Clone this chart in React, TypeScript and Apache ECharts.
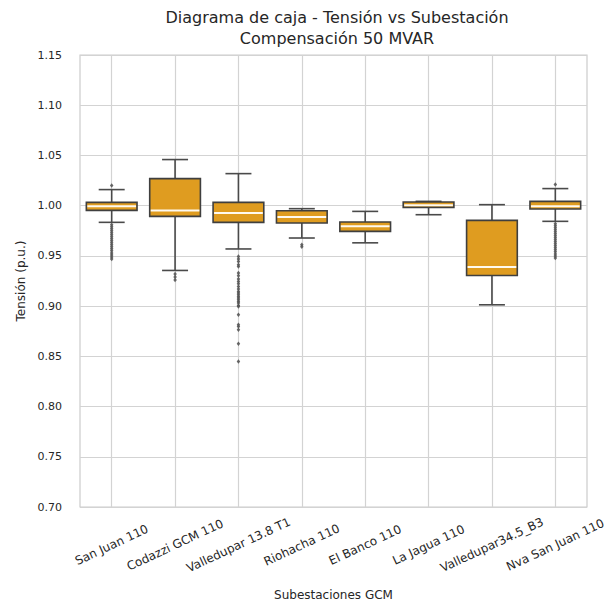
import React, { useEffect, useRef } from "react";
import * as echarts from "echarts";

const categories = [
  "San Juan 110",
  "Codazzi GCM 110",
  "Valledupar 13.8 T1",
  "Riohacha 110",
  "El Banco 110",
  "La Jagua 110",
  "Valledupar34.5_B3",
  "Nva San Juan 110",
];

// [lower whisker, Q1, median, Q3, upper whisker]
const boxStats = [
  [0.9834, 0.9953, 0.9993, 1.0033, 1.016],
  [0.9355, 0.9893, 0.9953, 1.0269, 1.0459],
  [0.9569, 0.9834, 0.9927, 1.0033, 1.0319],
  [0.9678, 0.9828, 0.9887, 0.995, 0.997],
  [0.963, 0.9744, 0.9794, 0.9838, 0.9943],
  [0.991, 0.9983, 1.0003, 1.0037, 1.0043],
  [0.9013, 0.9305, 0.9389, 0.9854, 1.001],
  [0.9844, 0.9967, 0.9993, 1.0043, 1.017],
];

const outliersSanJuan = [1.0202, 0.981, 0.979, 0.977, 0.975, 0.973, 0.971, 0.969, 0.967, 0.965, 0.963, 0.961, 0.959, 0.957, 0.955, 0.953, 0.951, 0.949, 0.947];
const outliersCodazzi = [0.932, 0.929, 0.926];
const outliersValledupar138 = [0.9495, 0.9469, 0.9445, 0.9412, 0.9395, 0.9329, 0.9302, 0.9269, 0.9246, 0.9223, 0.9196, 0.917, 0.9146, 0.913, 0.9113, 0.9096, 0.908, 0.9063, 0.9046, 0.903, 0.9007, 0.8997, 0.8914, 0.8814, 0.8797, 0.8764, 0.8625, 0.8448];
const outliersRiohacha = [0.961, 0.959];
const outliersElBanco: number[] = [];
const outliersLaJagua: number[] = [];
const outliersValledupar345: number[] = [];
const outliersNvaSanJuan = [1.021, 0.982, 0.98, 0.978, 0.976, 0.974, 0.972, 0.97, 0.968, 0.966, 0.964, 0.962, 0.96, 0.958, 0.956, 0.954, 0.952, 0.95, 0.948];

const outlierLists = [
  outliersSanJuan,
  outliersCodazzi,
  outliersValledupar138,
  outliersRiohacha,
  outliersElBanco,
  outliersLaJagua,
  outliersValledupar345,
  outliersNvaSanJuan,
];

const yTicks = { min: 0.7, max: 1.15, interval: 0.05 };

const FONT = "DejaVu Sans";
const BOX_FILL = "#DF9C20";
const LINE = "#4a4a4a";

export default function App() {
  const ref = useRef<HTMLDivElement>(null);

  useEffect(() => {
    if (!ref.current) return;
    document.body.style.margin = "0";
    const chart = echarts.init(ref.current, null, { renderer: "svg" });

    const boxData = boxStats.map((s, i) => [i, ...s]);
    const outlierData: [number, number][] = [];
    outlierLists.forEach((list, i) => list.forEach((v) => outlierData.push([i, v])));

    chart.setOption({
      animation: false,
      backgroundColor: "#ffffff",
      title: {
        text: "Diagrama de caja - Tensión vs Subestación\nCompensación 50 MVAR",
        left: 332,
        top: 2,
        textAlign: "center",
        textStyle: {
          fontFamily: FONT,
          fontSize: 16,
          fontWeight: "normal",
          color: "#262626",
          lineHeight: 21,
        },
      },
      grid: {
        left: 80,
        right: 24,
        top: 55,
        bottom: 101,
        show: true,
        borderColor: "#cccccc",
        borderWidth: 1.2,
        backgroundColor: "#ffffff",
      },
      xAxis: {
        type: "category",
        data: categories,
        boundaryGap: true,
        name: "Subestaciones GCM",
        nameLocation: "middle",
        nameGap: 82,
        nameTextStyle: { fontFamily: FONT, fontSize: 12, color: "#262626" },
        axisLine: { show: false },
        axisTick: { show: false, alignWithLabel: true },
        splitLine: {
          show: true,
          alignWithLabel: true,
          interval: 0,
          lineStyle: { color: "#d3d3d3", width: 1.2 },
        },
        axisLabel: {
          interval: 0,
          rotate: 25,
          align: "center",
          verticalAlign: "middle",
          margin: 38,
          fontFamily: FONT,
          fontSize: 12,
          color: "#262626",
        },
      },
      yAxis: {
        type: "value",
        min: yTicks.min,
        max: yTicks.max,
        interval: yTicks.interval,
        name: "Tensión (p.u.)",
        nameLocation: "middle",
        nameRotate: 90,
        nameGap: 52,
        nameTextStyle: { fontFamily: FONT, fontSize: 12, color: "#262626" },
        axisLine: { show: false },
        axisTick: { show: false },
        splitLine: { show: true, lineStyle: { color: "#d3d3d3", width: 1.2 } },
        axisLabel: {
          fontFamily: FONT,
          fontSize: 11,
          color: "#262626",
          margin: 18,
          formatter: (v: number) => v.toFixed(2),
        },
      },
      series: [
        {
          type: "custom",
          data: boxData,
          encode: { x: 0, y: [1, 2, 3, 4, 5] },
          z: 3,
          renderItem: (params: any, api: any) => {
            const idx = api.value(0);
            const mn = api.value(1);
            const q1 = api.value(2);
            const md = api.value(3);
            const q3 = api.value(4);
            const mx = api.value(5);
            const band = api.size([1, 0])[0];
            const bw = band * 0.8;
            const cw = band * 0.41;
            const pMin = api.coord([idx, mn]);
            const pQ1 = api.coord([idx, q1]);
            const pMd = api.coord([idx, md]);
            const pQ3 = api.coord([idx, q3]);
            const pMx = api.coord([idx, mx]);
            const x = pMin[0];
            const ls = { stroke: LINE, lineWidth: 1.6 };
            return {
              type: "group",
              children: [
                { type: "line", shape: { x1: x, y1: pQ3[1], x2: x, y2: pMx[1] }, style: ls },
                { type: "line", shape: { x1: x, y1: pQ1[1], x2: x, y2: pMin[1] }, style: ls },
                { type: "line", shape: { x1: x - cw / 2, y1: pMx[1], x2: x + cw / 2, y2: pMx[1] }, style: ls },
                { type: "line", shape: { x1: x - cw / 2, y1: pMin[1], x2: x + cw / 2, y2: pMin[1] }, style: ls },
                {
                  type: "rect",
                  shape: { x: x - bw / 2, y: pQ3[1], width: bw, height: pQ1[1] - pQ3[1] },
                  style: { fill: BOX_FILL, stroke: "#3f3f3f", lineWidth: 1.6 },
                },
                {
                  type: "line",
                  shape: { x1: x - bw / 2 + 1, y1: pMd[1], x2: x + bw / 2 - 1, y2: pMd[1] },
                  style: { stroke: "#fffaf0", lineWidth: 2 },
                },
              ],
            };
          },
        },
        {
          type: "scatter",
          data: outlierData,
          symbol: "diamond",
          symbolSize: [3.5, 4.5],
          z: 4,
          itemStyle: { color: "#555555", opacity: 0.9 },
        },
      ],
    });

    return () => chart.dispose();
  }, []);

  return (
    <div
      ref={ref}
      style={{ position: "absolute", left: 0, top: 0, width: 611, height: 608 }}
    />
  );
}
